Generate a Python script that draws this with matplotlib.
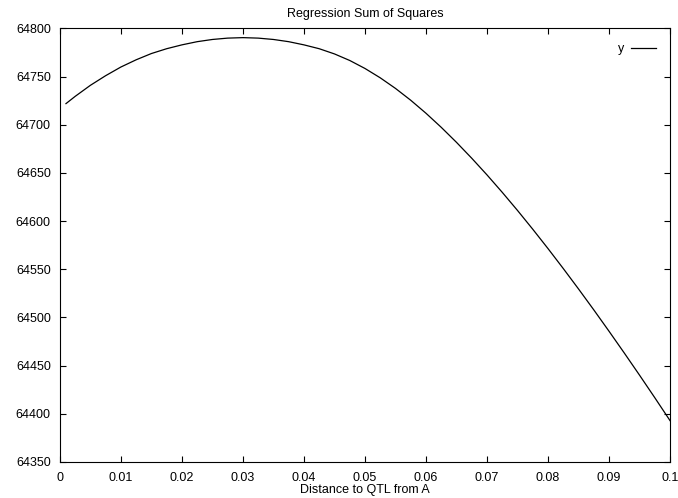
import matplotlib
matplotlib.use("Agg")
from matplotlib import pyplot as plt

# values
dist = [0.001, 0.0025, 0.005, 0.0075, 0.01, 0.0125, 0.015, 0.0175, 0.02, 0.0225,
        0.025, 0.0275, 0.03, 0.0325, 0.035, 0.0375, 0.04, 0.0425, 0.045, 0.0475,
        0.05, 0.0525, 0.055, 0.0575, 0.06, 0.0625, 0.065, 0.0675, 0.07, 0.0725,
        0.075, 0.0775, 0.08, 0.0825, 0.085, 0.0875, 0.09, 0.0925, 0.095, 0.0975, 0.1]
ssr = [64722, 64729.5, 64741, 64751, 64760, 64767.5, 64774, 64779, 64783, 64786.3,
       64788.6, 64790, 64790.5, 64790, 64788.6, 64786.3, 64783, 64779, 64773.6, 64766.8,
       64758.5, 64748.8, 64737.8, 64725.5, 64712.0, 64697.4, 64681.8, 64665.3, 64648.0, 64629.9,
       64611.1, 64591.6, 64571.5, 64550.8, 64529.6, 64507.9, 64485.7, 64463.1, 64440.1, 64416.7, 64392.9]

xticks = [0, 0.01, 0.02, 0.03, 0.04, 0.05, 0.06, 0.07, 0.08, 0.09, 0.1]
xticklabels = ["0", "0.01", "0.02", "0.03", "0.04", "0.05", "0.06", "0.07", "0.08", "0.09", "0.1"]
yticks = [64350, 64400, 64450, 64500, 64550, 64600, 64650, 64700, 64750, 64800]

plt.rcParams["font.family"] = ["Liberation Sans", "DejaVu Sans"]
plt.rcParams["font.size"] = 9

fig = plt.figure(figsize=(6.78, 4.98), dpi=100)
ax = fig.add_axes([0.0883, 0.0723, 0.9, 0.8705])

ax.plot(dist, ssr, color="black", linewidth=0.9, label="y")

ax.set_xlim(0, 0.1)
ax.set_ylim(64350, 64800)
ax.set_xticks(xticks)
ax.set_xticklabels(xticklabels)
ax.set_yticks(yticks)
ax.tick_params(direction="in", length=4.3, width=0.8, top=True, right=True,
               color="black", labelsize=9)
ax.tick_params(axis="y", pad=6.5)
ax.tick_params(axis="x", pad=7)
for s in ax.spines.values():
    s.set_linewidth(0.8)

ax.set_title("Regression Sum of Squares", fontsize=9, pad=8)
ax.set_xlabel("Distance to QTL from A", fontsize=9, labelpad=0.5)

ax.legend(loc="upper right", frameon=False, markerfirst=False, handlelength=2.0,
          handletextpad=0.5, bbox_to_anchor=(0.995, 0.992), fontsize=9)

fig.savefig("out.png", dpi=100)
